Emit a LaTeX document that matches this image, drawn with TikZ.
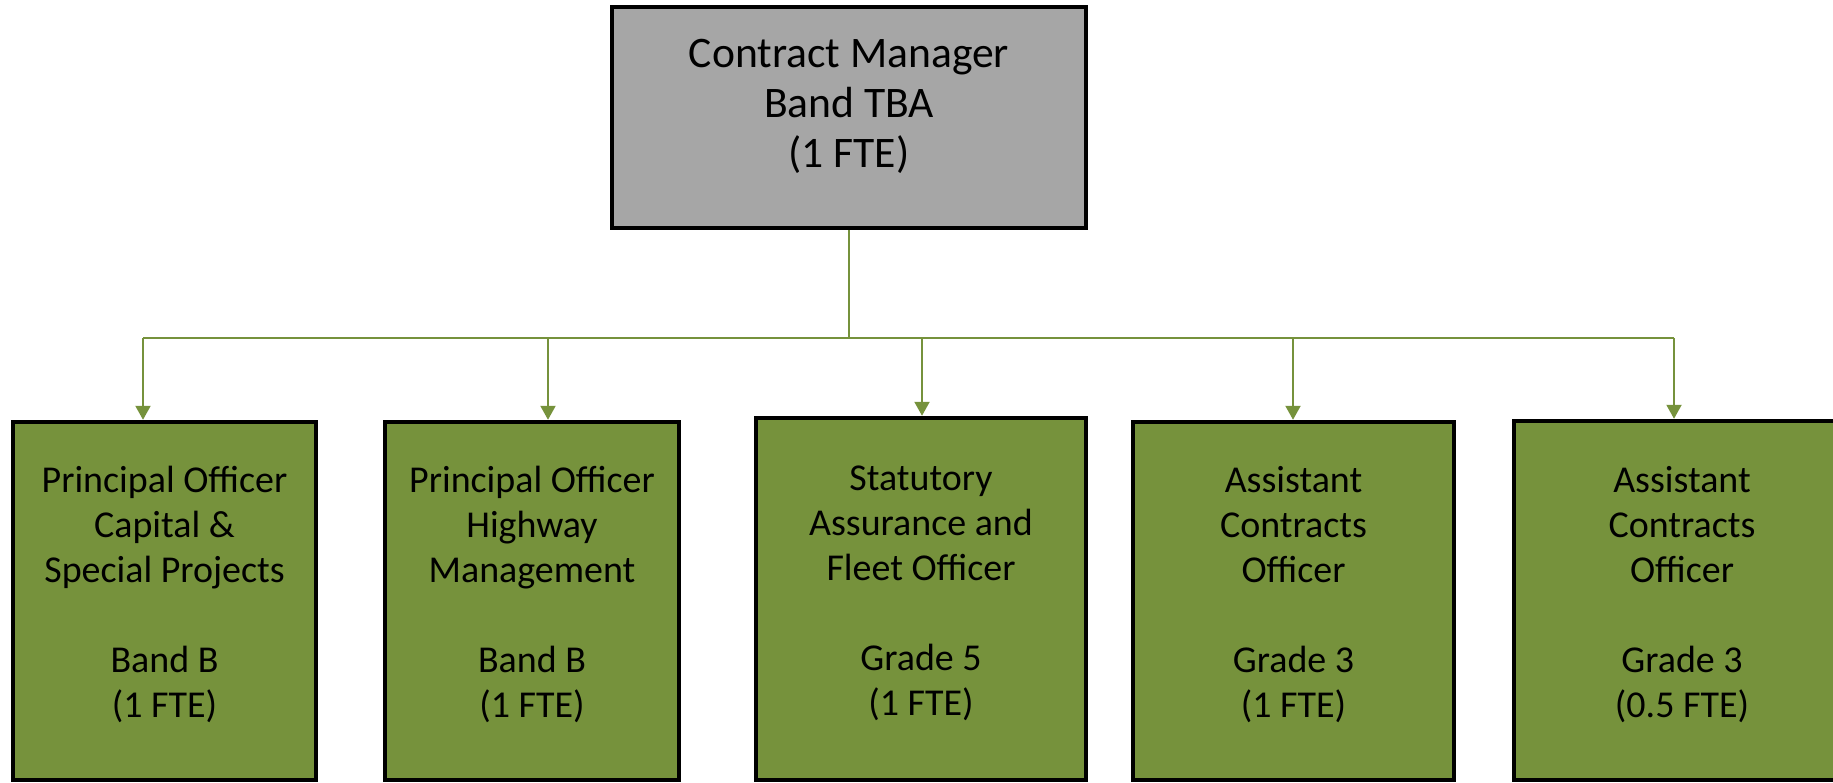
\documentclass[tikz,border=0pt]{standalone}
\usepackage{fontspec}
\setmainfont{Carlito}
\usetikzlibrary{arrows.meta}
\definecolor{postgreen}{HTML}{76923C}
\definecolor{chiefgrey}{HTML}{A6A6A6}
\tikzset{
	chief/.style={draw, line width=1.2pt, fill=chiefgrey, minimum width=4.74cm, minimum height=2.21cm, inner sep=0pt},
	post/.style={draw, line width=1.2pt, fill=postgreen, anchor=south, inner sep=0pt},
	chieftext/.style={align=center, font=\fontsize{12.4}{14.2}\selectfont},
	posttext/.style={align=center, font=\fontsize{10.8}{12.8}\selectfont},
	link/.style={draw=postgreen, line width=0.6pt},
}
\begin{document}
\begin{tikzpicture}
			\useasboundingbox (0,0) rectangle (18.33,7.83);
			\node[chief] (cm) at (8.49,6.655) {};
			\node[chieftext] (cmtext) at ([yshift=1.1mm]cm.center) {Contract Manager\\Band TBA\\(1 FTE)};
			
			\def\posts {b1/1.645/3.03/3.58/{Principal Officer\\Capital \&\\Special Projects}/{Band B}/{(1 FTE)},
				b2/5.32/2.94/3.58/{Principal Officer\\Highway\\Management}/{Band B}/{(1 FTE)},
				b3/9.21/3.30/3.62/{Statutory\\Assurance and\\Fleet Officer}/{Grade 5}/{(1 FTE)},
				b4/12.935/3.21/3.58/{Assistant\\Contracts\\Officer}/{Grade 3}/{(1 FTE)},
				b5/16.82/3.36/3.59/{Assistant\\Contracts\\Officer}/{Grade 3}/{(0.5 FTE)}}  % list elements
			\foreach \name/\x/\w/\h/\role/\grade/\fte in \posts
			{	\node[post, minimum width=\w cm, minimum height=\h cm] (\name) at (\x,0.01) {};
				\node[posttext] (\name-text) at ([yshift=0.6mm]\name.center) {\role\\[12.8pt]\grade\\\fte};
			}
			
			\coordinate (busL) at (1.43,4.45);
			\coordinate (busR) at (16.74,4.45);
			\draw[link] (cm.south) -- (cm.south |- busL);
			\draw[link] (busL) -- (busR);
			\foreach \name/\ax in {b1/1.43, b2/5.48, b3/9.22, b4/12.93, b5/16.74}
			{	\draw[link, -{Triangle[width=1.5mm,length=1.4mm]}] (\ax,0 |- busL) -- (\ax,0 |- \name.north);
			}
			
		\end{tikzpicture}
\end{document}
